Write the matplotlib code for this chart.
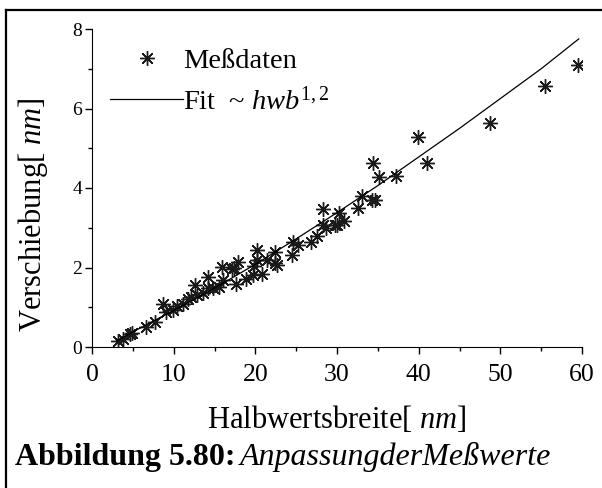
import matplotlib
matplotlib.use('Agg')
import matplotlib.pyplot as plt
from matplotlib.lines import Line2D

plt.rcParams['font.family'] = 'Liberation Serif'
plt.rcParams['mathtext.fontset'] = 'custom'
plt.rcParams['mathtext.rm'] = 'Liberation Serif'
plt.rcParams['mathtext.it'] = 'Liberation Serif:italic'
plt.rcParams['mathtext.bf'] = 'Liberation Serif:bold'

hwb = [3.2, 3.8, 4.7, 4.9, 6.6, 7.7, 8.65, 9.06, 9.9, 10.4, 11.2, 11.7, 12.1, 12.6,
       12.9, 13.55, 14.25, 14.25, 14.85, 15.6, 16.1, 15.95, 17.2, 17.4, 17.6, 17.9,
       18.9, 19.7, 19.8, 20.2, 20.2, 20.8, 21.4, 22.4, 22.4, 22.6, 24.45, 24.6, 25.2,
       26.8, 27.5, 28.3, 28.3, 28.7, 30.0, 30.2, 29.8, 30.9, 32.6, 33.1, 34.25, 34.6,
       34.45, 35.1, 37.2, 39.96, 41.06, 48.7, 55.5, 59.55]
shift = [0.15, 0.19, 0.33, 0.35, 0.50, 0.64, 1.08, 0.87, 0.92, 1.02, 1.08, 1.20, 1.25, 1.56,
         1.31, 1.35, 1.77, 1.48, 1.48, 1.52, 1.69, 2.01, 1.96, 1.98, 1.59, 2.15,
         1.71, 1.81, 2.04, 2.19, 2.43, 1.84, 2.19, 2.38, 2.11, 2.07, 2.32, 2.65, 2.57,
         2.65, 2.78, 3.47, 3.07, 2.99, 3.07, 3.37, 3.07, 3.18, 3.49, 3.79, 3.69, 3.70,
         4.63, 4.27, 4.31, 5.28, 4.63, 5.63, 6.57, 7.10]

# fit curve ~ hwb^1.2
fit_x = [3, 5, 10, 15, 20, 25, 30, 35, 40, 45, 50, 55, 59.6]
fit_y = [0.15, 0.38, 0.92, 1.48, 2.08, 2.72, 3.38, 4.06, 4.78, 5.50, 6.25, 7.0, 7.75]

fig = plt.figure(figsize=(6.02, 4.88), dpi=100)
ax = fig.add_axes([92/602, 1-347/488, 490/602, 318/488])

ax.plot(hwb, shift, linestyle='none', marker=(8, 2, 0), markersize=10.5,
        markeredgewidth=1.0, color='#1a1a1a', label='Meßdaten')
ax.plot(fit_x, fit_y, color='black', linewidth=0.9, label=r'Fit  ~ $\it{hwb}^{1,2}$')

ax.set_xlim(0, 60)
ax.set_ylim(0, 8)
ax.set_xticks(range(0, 61, 10))
ax.set_xticks(range(5, 60, 10), minor=True)
ax.set_yticks([0, 2, 4, 6, 8])
ax.set_yticks([1, 3, 5, 7], minor=True)
ax.spines['top'].set_visible(False)
ax.spines['right'].set_visible(False)
ax.tick_params(which='major', direction='out', length=5, width=1)
ax.tick_params(which='minor', direction='out', length=3, width=1)
ax.tick_params(axis='x', which='major', labelsize=18.5, pad=7)
ax.tick_params(axis='y', which='major', labelsize=14, pad=2)

ax.set_xlabel(r'Halbwertsbreite[ $\it{nm}$]', fontsize=22, labelpad=13)
ax.set_ylabel(r'Verschiebung[ $\it{nm}$]', fontsize=22)
ax.yaxis.set_label_coords(-0.086, 0.415)

ax.legend(loc='upper left', bbox_to_anchor=(0.037, 0.94), frameon=False, fontsize=20.5,
          handlelength=2.56, handletextpad=0.0, labelspacing=0.45, borderpad=0,
          borderaxespad=0)

# caption: bold part then italic part
t1 = fig.text(15/602, 1-457/488, 'Abbildung 5.80:', fontsize=23, fontweight='bold',
              va='center', ha='left')
fig.canvas.draw()
bb = t1.get_window_extent()
fig.text(bb.x1/602 + 4/602, 1-457/488, 'AnpassungderMeßwerte', fontsize=23,
         style='italic', va='center', ha='left')

# partial frame around figure
fig.add_artist(Line2D([6/602, 6/602], [0, 1-10/488], color='black', linewidth=1.6))
fig.add_artist(Line2D([6/602, 1], [1-10/488, 1-10/488], color='black', linewidth=1.6))

fig.savefig('out.png', dpi=100)
